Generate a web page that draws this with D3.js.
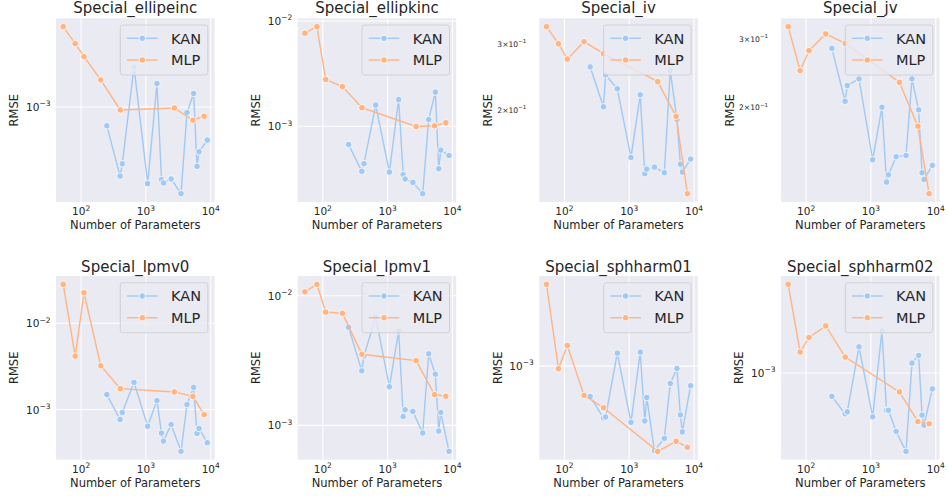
<!DOCTYPE html>
<html><head><meta charset="utf-8">
<script src="https://cdn.jsdelivr.net/npm/d3@7"></script>
<style>body{margin:0;background:#fff;} svg text{font-family:"DejaVu Sans",sans-serif;fill:#262626;}</style>
</head><body><svg id="c" width="948" height="496"></svg>
<script>
// ---- data ----
const titles = ["Special_ellipeinc","Special_ellipkinc","Special_iv","Special_jv","Special_lpmv0","Special_lpmv1","Special_sphharm01","Special_sphharm02"];
const seriesNames = ["KAN","MLP"];
const kanParams = [250, 400, 432, 655, 1065, 1480, 1740, 1865, 2450, 3480, 4300, 5450, 6150, 6600, 8850];
const mlpParams = [53, 81, 111, 201, 402, 2750, 5300, 7900];

const ellipeincKAN = [0.684e-3, 0.249e-3, 0.319e-3, 2.24e-3, 0.214e-3, 1.60e-3, 0.232e-3, 0.217e-3, 0.235e-3, 0.175e-3, 0.892e-3, 1.31e-3, 0.303e-3, 0.406e-3, 0.513e-3];
const ellipeincMLP = [5.02e-3, 3.57e-3, 2.75e-3, 1.72e-3, 0.94e-3, 0.98e-3, 0.765e-3, 0.83e-3];
const ellipkincKAN = [0.671e-3, 0.373e-3, 0.441e-3, 1.59e-3, 0.367e-3, 1.79e-3, 0.347e-3, 0.315e-3, 0.293e-3, 0.229e-3, 1.16e-3, 2.11e-3, 0.395e-3, 0.593e-3, 0.528e-3];
const ellipkincMLP = [7.65e-3, 8.83e-3, 2.78e-3, 2.38e-3, 1.50e-3, 0.994e-3, 1.01e-3, 1.08e-3];
const ivKAN = [0.2603, 0.2040, 0.2479, 0.2277, 0.1496, 0.2195, 0.1354, 0.1393, 0.1410, 0.1363, 0.2541, 0.1886, 0.1436, 0.1368, 0.1481];
const ivMLP = [0.333, 0.300, 0.273, 0.3037, 0.2823, 0.2379, 0.1923, 0.1199];
const jvKAN = [0.2837, 0.2072, 0.2275, 0.2366, 0.1464, 0.2000, 0.1282, 0.1339, 0.1490, 0.1502, 0.2366, 0.1969, 0.1355, 0.1302, 0.1416];
const jvMLP = [0.3227, 0.2486, 0.2799, 0.3090, 0.2922, 0.2319, 0.1787, 0.1197];
const lpmv0KAN = [0.00149, 0.000767, 0.000923, 0.002065, 0.000641, 0.00127, 0.000533, 0.000431, 0.000671, 0.000328, 0.001143, 0.001807, 0.000529, 0.000604, 0.000413];
const lpmv0MLP = [0.0282, 0.00416, 0.02254, 0.003217, 0.001746, 0.0016, 0.001423, 0.000874];
const lpmv1KAN = [0.00571, 0.002636, 0.003436, 0.006855, 0.001986, 0.00535, 0.001172, 0.001321, 0.001282, 0.000874, 0.003565, 0.002483, 0.000906, 0.001259, 0.000631];
const lpmv1MLP = [0.01074, 0.01225, 0.00749, 0.00732, 0.00354, 0.00316, 0.00173, 0.00168];
const sphharm01KAN = [0.000558, 0.000369, 0.000376, 0.001283, 0.000339, 0.001308, 0.000348, 0.000547, 0.000197, 0.000249, 0.000716, 0.000955, 0.000391, 0.000282, 0.000686];
const sphharm01MLP = [0.004819, 0.000950, 0.001486, 0.000569, 0.000449, 0.000194, 0.000235, 0.00021];
const sphharm02KAN = [0.000638, 0.000455, 0.000473, 0.001655, 0.00043, 0.002251, 0.000488, 0.000488, 0.000324, 0.000221, 0.001211, 0.001403, 0.000444, 0.000366, 0.000736];
const sphharm02MLP = [0.005520, 0.001496, 0.001982, 0.002478, 0.001359, 0.000695, 0.000393, 0.000376];

const kanSeries = [ellipeincKAN, ellipkincKAN, ivKAN, jvKAN, lpmv0KAN, lpmv1KAN, sphharm01KAN, sphharm02KAN];
const mlpSeries = [ellipeincMLP, ellipkincMLP, ivMLP, jvMLP, lpmv0MLP, lpmv1MLP, sphharm01MLP, sphharm02MLP];

// ---- layout / style ----
const colors = {KAN:"#a1c9f4", MLP:"#ffb482"};
const colLeft = [56, 297.7, 539.3, 781], rowTop = [18.3, 276];
const pw = 158.5, ph = 183.7;
const svg = d3.select("#c");
const minus = "\u2212";

function supText(sel, base, exp, baseSize, expSize, dyUp) {
  sel.append("tspan").text(base).style("font-size", baseSize + "px");
  sel.append("tspan").text(exp).style("font-size", expSize + "px").attr("dy", -dyUp);
}

titles.forEach((title, i) => {
  const r = Math.floor(i / 4), c = i % 4;
  const g = svg.append("g").attr("transform", `translate(${colLeft[c]},${rowTop[r]})`);
  const kan = kanSeries[i], mlp = mlpSeries[i];

  const lx = d3.extent(kanParams.concat(mlpParams)).map(Math.log10);
  const px = (lx[1] - lx[0]) * 0.05;
  const x = d3.scaleLog().domain([10 ** (lx[0] - px), 10 ** (lx[1] + px)]).range([0, pw]);
  const ly = d3.extent(kan.concat(mlp)).map(Math.log10);
  const py = (ly[1] - ly[0]) * 0.05;
  const yl0 = ly[0] - py, yl1 = ly[1] + py;
  const y = d3.scaleLog().domain([10 ** yl0, 10 ** yl1]).range([ph, 0]);

  g.append("rect").attr("width", pw).attr("height", ph).attr("fill", "#EAEAF2");

  // x major ticks
  const xl = x.domain().map(Math.log10);
  const xmaj = d3.range(Math.ceil(xl[0]), Math.floor(xl[1]) + 1);
  xmaj.forEach(k => {
    g.append("line").attr("x1", x(10 ** k)).attr("x2", x(10 ** k)).attr("y1", 0).attr("y2", ph)
      .attr("stroke", "#fff").attr("stroke-width", 1.1);
    const t = g.append("text").attr("x", x(10 ** k)).attr("y", ph + 13.3).attr("text-anchor", "middle");
    supText(t, "10", String(k).replace("-", minus), 10.5, 7.5, 4.6);
  });
  // y ticks
  const ymaj = d3.range(Math.ceil(yl0), Math.floor(yl1) + 1);
  ymaj.forEach(k => {
    g.append("line").attr("x1", 0).attr("x2", pw).attr("y1", y(10 ** k)).attr("y2", y(10 ** k))
      .attr("stroke", "#fff").attr("stroke-width", 1.1);
    const t = g.append("text").attr("x", -5.5).attr("y", y(10 ** k) + 4).attr("text-anchor", "end");
    supText(t, "10", String(k).replace("-", minus), 10.5, 7.5, 4.6);
  });
  const numdec = yl1 - yl0;
  let minorLab = false;
  if (numdec <= 1 && numdec > 0.4) {
    minorLab = true;
    for (let k = Math.floor(yl0); k <= Math.ceil(yl1); k++) {
      [2, 3, 4, 6].forEach(cf => {
        const v = cf * 10 ** k;
        if (Math.log10(v) < yl0 || Math.log10(v) > yl1) return;
        const t = g.append("text").attr("x", -13).attr("y", y(v) + 3).attr("text-anchor", "end");
        supText(t, cf + "\u00d710", String(k).replace("-", minus), 7.6, 5.5, 3.6);
      });
    }
  }

  // series
  const line = d3.line().x(d => x(d[0])).y(d => y(d[1]));
  [["KAN", kanParams, kan], ["MLP", mlpParams, mlp]].forEach(([name, xs, ys]) => {
    const pts = xs.map((v, j) => [v, ys[j]]);
    g.append("path").attr("d", line(pts)).attr("fill", "none").attr("stroke", colors[name]).attr("stroke-width", 1.4);
    g.selectAll(null).data(pts).enter().append("circle")
      .attr("cx", d => x(d[0])).attr("cy", d => y(d[1])).attr("r", 3.3)
      .attr("fill", colors[name]).attr("stroke", "#fff").attr("stroke-width", 0.8);
  });

  // title & labels
  g.append("text").attr("x", pw / 2).attr("y", r === 0 ? -5.8 : -4.5).attr("text-anchor", "middle")
    .style("font-size", "15px").text(title);
  g.append("text").attr("x", pw / 2).attr("y", ph + 27.2).attr("text-anchor", "middle")
    .style("font-size", "11.5px").text("Number of Parameters");
  g.append("text").attr("transform", `translate(${minorLab ? -51.5 : -41.8},${ph / 2}) rotate(-90)`)
    .attr("text-anchor", "middle").attr("dy", "0.36em").style("font-size", "11.5px").text("RMSE");

  // legend
  const lw = 87.5, lh = 50;
  const lg = g.append("g").attr("transform", `translate(${pw - 6.7 - lw},6.7)`);
  lg.append("rect").attr("width", lw).attr("height", lh).attr("rx", 2.5)
    .attr("fill", "#EAEAF2").attr("fill-opacity", 0.8).attr("stroke", "#cccccc").attr("stroke-width", 0.8);
  seriesNames.forEach((name, j) => {
    const cy = 13.3 + j * 21.7;
    lg.append("line").attr("x1", 6.7).attr("x2", 37.3).attr("y1", cy).attr("y2", cy)
      .attr("stroke", colors[name]).attr("stroke-width", 1.4);
    lg.append("circle").attr("cx", 22).attr("cy", cy).attr("r", 3.3)
      .attr("fill", colors[name]).attr("stroke", "#fff").attr("stroke-width", 0.8);
    lg.append("text").attr("x", 50.7).attr("y", cy + 5.2).style("font-size", "14.5px").text(name);
  });
});
</script>
</body></html>
